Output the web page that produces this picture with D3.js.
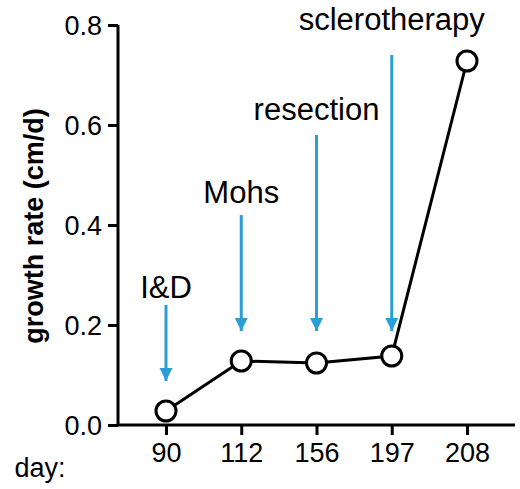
<!DOCTYPE html>
<html><head><meta charset="utf-8">
<script src="https://cdn.jsdelivr.net/npm/d3@7"></script>
<style>body{margin:0;background:#fff}text{font-family:"Liberation Sans",Arial,sans-serif}</style>
</head><body><svg id="c" width="520" height="489"></svg>
<script>
const days=["90","112","156","197","208"];
const rates=[0.028,0.128,0.124,0.138,0.728];
const yTicks=[0,0.2,0.4,0.6,0.8];
const events=["I&D","Mohs","resection","sclerotherapy"];
const eventDay=["90","112","156","197"];
const arrowTop=[0.24,0.42,0.58,0.74];
const arrowTip=[0.08,0.18,0.18,0.18];
const labelY=[0.255,0.445,0.61,0.79];

const svg=d3.select("#c");
const x=d3.scalePoint().domain(days).range([166,467]);
const y=d3.scaleLinear().domain([0,0.8]).range([425,25]);
const blue="#2a9fd6";

const ya=svg.append("g").attr("transform","translate(118,0)").call(d3.axisLeft(y).tickValues(yTicks).tickFormat(d3.format(".1f")).tickSize(10).tickPadding(6));
ya.select(".domain").attr("stroke-width",3).attr("d","M0,25V425");
ya.selectAll(".tick line").attr("stroke-width",3);
ya.selectAll("text").attr("font-size",27).attr("dy","0.35em");

const xa=svg.append("g").attr("transform","translate(0,425)").call(d3.axisBottom(x).tickSize(10).tickPadding(8));
xa.select(".domain").attr("stroke-width",3).attr("d","M118,0H515");
xa.selectAll(".tick line").attr("stroke-width",3);
xa.selectAll("text").attr("font-size",27);

svg.append("text").attr("x",40).attr("y",477).attr("text-anchor","middle").attr("font-size",27).text("day:");
svg.append("text").attr("transform","translate(43,226) rotate(-90)").attr("text-anchor","middle").attr("font-size",27).attr("font-weight","bold").text("growth rate (cm/d)");

const defs=svg.append("defs");
defs.append("marker").attr("id","ah").attr("viewBox","0 0 10 10").attr("refX",10).attr("refY",5).attr("markerWidth",4.5).attr("markerHeight",4.5).attr("markerUnits","strokeWidth").attr("orient","auto")
 .append("path").attr("d","M0,0L10,5L0,10Z").attr("fill",blue);
events.forEach((e,i)=>{
  const cx=x(eventDay[i]);
  svg.append("line").attr("x1",cx).attr("x2",cx).attr("y1",y(arrowTop[i])).attr("y2",y(arrowTip[i])-4).attr("stroke",blue).attr("stroke-width",3).attr("marker-end","url(#ah)");
  svg.append("text").attr("x",cx).attr("y",y(labelY[i])).attr("text-anchor","middle").attr("font-size",31).text(e);
});

svg.append("path").datum(rates).attr("fill","none").attr("stroke","#000").attr("stroke-width",3)
 .attr("d",d3.line().x((d,i)=>x(days[i])).y(d=>y(d)));
svg.selectAll("circle.p").data(rates).join("circle").attr("cx",(d,i)=>x(days[i])).attr("cy",d=>y(d)).attr("r",10).attr("fill","#fff").attr("stroke","#000").attr("stroke-width",3);
</script></body></html>
